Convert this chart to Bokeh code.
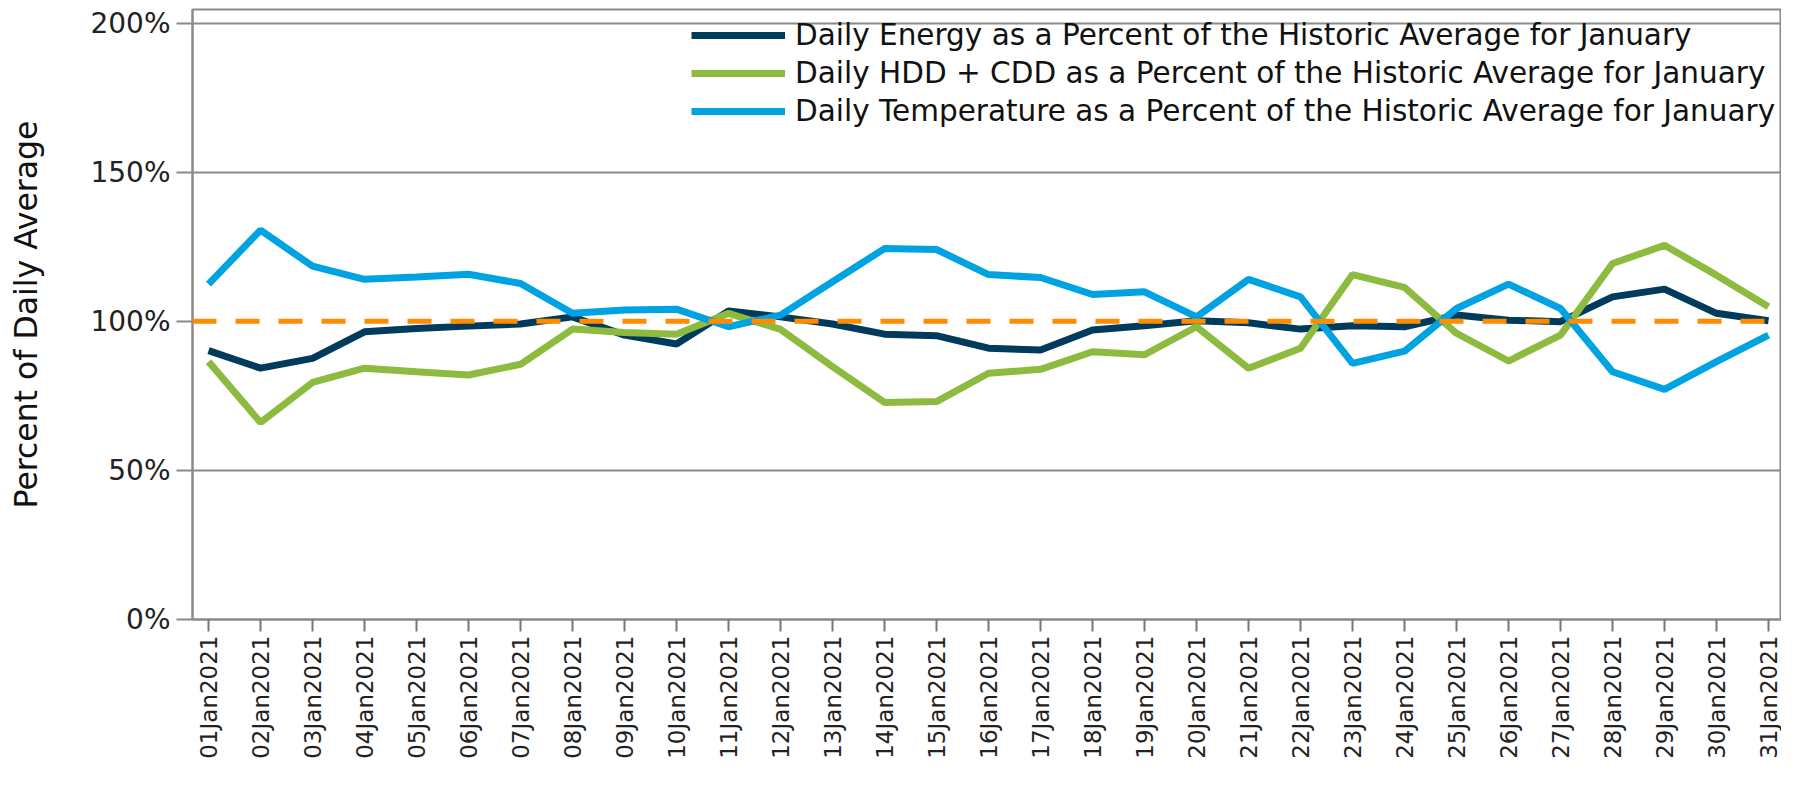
import math
from bokeh.plotting import figure
from bokeh.models import FixedTicker, PrintfTickFormatter, Span, Legend, LegendItem
from bokeh.embed import file_html
from bokeh.resources import INLINE

# ---- data ----
days = list(range(1, 32))
date_labels = ["%02dJan2021" % d for d in days]

energy_pct = [90.2, 84.3, 87.6, 96.5, 97.6, 98.4, 99.1, 101.5, 95.4, 92.4,
              103.5, 101.5, 99.1, 95.7, 95.2, 91.0, 90.4, 97.1, 98.5, 100.2,
              99.5, 97.4, 98.5, 98.2, 102.1, 100.4, 99.9, 108.2, 110.8, 102.7,
              100.2]
hdd_cdd_pct = [86.5, 66.1, 79.5, 84.3, 83.1, 82.0, 85.6, 97.4, 96.3, 95.7,
               102.7, 97.3, 84.8, 72.8, 73.1, 82.6, 83.9, 89.8, 88.8, 98.2,
               84.3, 91.0, 115.7, 111.4, 96.0, 86.7, 95.4, 119.4, 125.5, 115.5,
               104.9]
temp_pct = [112.5, 130.6, 118.5, 114.1, 114.9, 115.8, 112.7, 102.7, 103.8, 104.1,
            98.2, 102.1, 113.3, 124.4, 124.1, 115.7, 114.7, 109.0, 109.9, 101.5,
            114.1, 108.2, 85.9, 90.0, 104.3, 112.5, 104.3, 83.1, 77.2, 86.5,
            95.4]
y_ticks = [0, 50, 100, 150, 200]
grid_ticks = [0, 50, 150, 200]
reference_pct = 100

series_names = [
    "Daily Energy as a Percent of the Historic Average for January",
    "Daily HDD + CDD as a Percent of the Historic Average for January",
    "Daily Temperature as a Percent of the Historic Average for January",
]
series_colors = ["#003B5C", "#8DBB3F", "#00A3E1"]

FONT = "DejaVu Sans"
GRAY = "#8a8a8a"

p = figure(width=1781, height=769, output_backend="svg", toolbar_location=None,
           x_range=(0.692, 31.25), y_range=(0, 204.6),
           min_border_left=192, min_border_right=0, min_border_top=9,
           min_border_bottom=150)

p.outline_line_color = GRAY
p.outline_line_width = 2
p.xgrid.visible = False
p.ygrid.grid_line_color = GRAY
p.ygrid.grid_line_width = 2
p.ygrid.ticker = FixedTicker(ticks=grid_ticks)

ref = Span(location=reference_pct, dimension="width", line_color="#FF8C00",
           line_width=5, line_dash="24 19")
p.add_layout(ref)

renderers = []
for vals, col in zip([energy_pct, hdd_cdd_pct, temp_pct], series_colors):
    r = p.line(days, vals, line_color=col, line_width=7)
    renderers.append(r)

legend = Legend(items=[LegendItem(label=n, renderers=[r]) for n, r in zip(series_names, renderers)],
                location=(499, 489), background_fill_alpha=0, border_line_alpha=0,
                glyph_width=94, glyph_height=38, label_height=38, spacing=0,
                label_standoff=10, padding=0, margin=0,
                label_text_font=FONT, label_text_font_size="29.5px",
                label_text_color="#111111")
p.add_layout(legend)

# y axis
ya = p.yaxis[0]
ya.ticker = FixedTicker(ticks=y_ticks)
ya.formatter = PrintfTickFormatter(format="%d%%")
ya.axis_label = "Percent of Daily Average"
ya.axis_label_text_font = FONT
ya.axis_label_text_font_size = "31.5px"
ya.axis_label_text_font_style = "normal"
ya.axis_label_text_color = "#111111"
ya.axis_label_standoff = 43
ya.major_label_text_font = FONT
ya.major_label_text_font_size = "28px"
ya.major_label_text_color = "#222222"
ya.major_label_standoff = 6
ya.major_tick_out = 16
ya.major_tick_in = 0
ya.minor_tick_out = 0
ya.minor_tick_in = 0
ya.major_tick_line_color = GRAY
ya.major_tick_line_width = 2
ya.axis_line_color = GRAY
ya.axis_line_width = 2

# x axis
xa = p.xaxis[0]
xa.ticker = FixedTicker(ticks=days)
xa.major_label_overrides = {d: lab for d, lab in zip(days, date_labels)}
xa.major_label_orientation = math.pi / 2
xa.major_label_text_font = FONT
xa.major_label_text_font_size = "23px"
xa.major_label_text_color = "#222222"
xa.major_label_standoff = 4
xa.major_tick_out = 12
xa.major_tick_in = 0
xa.minor_tick_out = 0
xa.minor_tick_in = 0
xa.major_tick_line_color = "#777777"
xa.major_tick_line_width = 2
xa.axis_line_color = GRAY
xa.axis_line_width = 2

open("out.html", "w").write(file_html(p, INLINE))
